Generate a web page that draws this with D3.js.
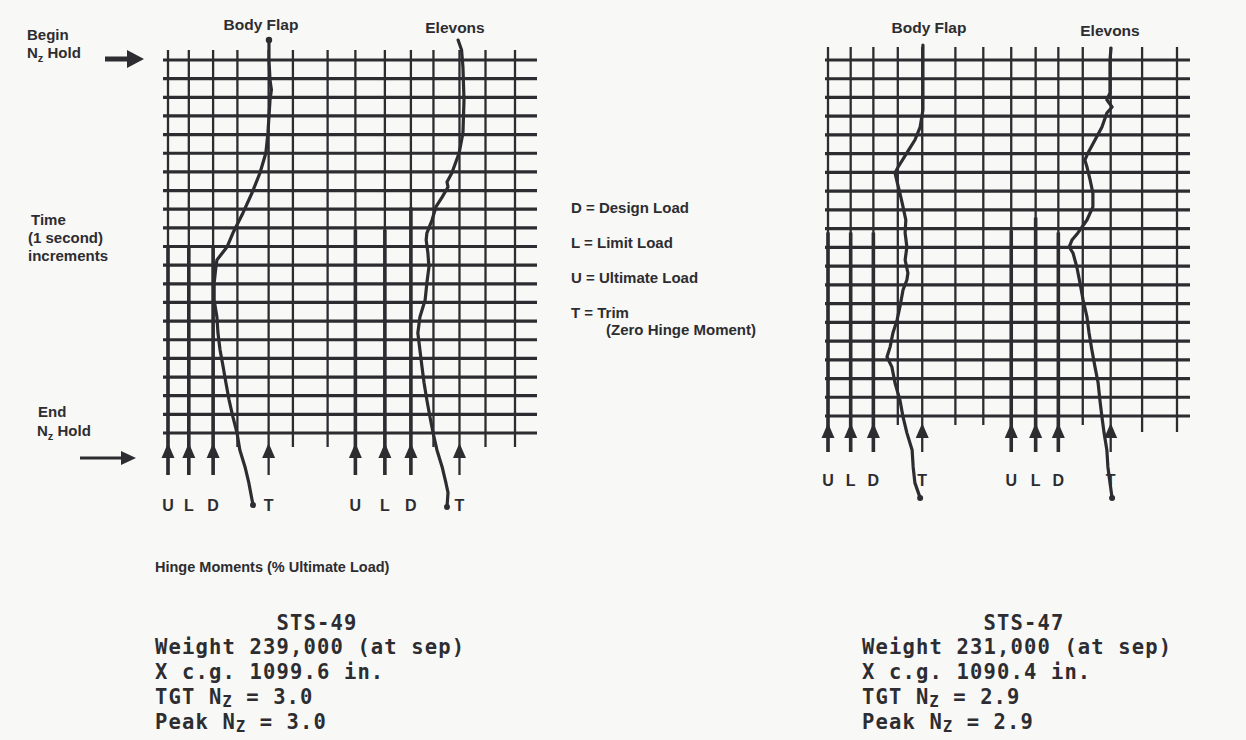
<!DOCTYPE html>
<html><head><meta charset="utf-8">
<script src="https://cdn.jsdelivr.net/npm/d3@7"></script>
<style>
html,body{margin:0;padding:0;background:#f8f8f6;}
svg{display:block;}
.lbl{font-family:"Liberation Sans",Arial,sans-serif;font-weight:bold;fill:#2d2d31;}
.mono{font-family:"DejaVu Sans Mono",monospace;font-weight:bold;fill:#2d2d31;}
</style></head><body>
<svg id="c" width="1246" height="740"></svg>
<script>
// ---------------- DATA ----------------
// time grid (1 second increments)
const leftTimeTicks = d3.range(0, 21);
const rightTimeTicks = d3.range(0, 20);
// hinge moment grid values (relative scale 0..100)
const leftGridValues = [0, 6, 13, 20, 29, 36, 46, 54, 62.5, 70, 76.5, 84, 91.5, 100];
const rightGridValues = [0, 6.5, 13, 20, 27, 36.5, 44.5, 52.5, 59.5, 66, 73, 81, 90, 100];
const loadLabels = ["U", "L", "D", "T"];
// load marker positions (U, L, D, T)
const leftFlapLoads = [0, 6, 13, 29];
const leftElevonLoads = [54, 62.5, 70, 84];
const rightFlapLoads = [0, 6.5, 13, 27];
const rightElevonLoads = [52.5, 59.5, 66, 81];
// time from which the U/L/D load lines are drawn heavy
const leftFlapHeavyFrom = [10, 10, 10];
const leftElevonHeavyFrom = [9.1, 9.1, 7.9];
const rightFlapHeavyFrom = [9.2, 9.2, 9.2];
const rightElevonHeavyFrom = [9.1, 8.4, 9.2];

// STS-49 body flap
const leftFlapTime = [-1.07, 0, 1.07, 1.6, 2.14, 3.91, 4.99, 6.06, 7.13, 8.2, 9.28, 10.03, 10.72, 11.1, 11.96, 12.87, 13.78, 14.64, 15.55, 16.46, 17.32, 18.23, 19.14, 20, 20.91, 21.82, 22.68, 23.86];
const leftFlapMoment = [29.1, 29.1, 29.4, 29.8, 29.4, 28.8, 28.2, 26.5, 24.2, 21.6, 18.7, 17.0, 14.1, 13.8, 13.3, 13.3, 14.1, 14.4, 15.0, 15.9, 16.7, 17.6, 18.7, 19.9, 20.7, 22.2, 23.3, 24.5];
// STS-49 elevons
const leftElevonTime = [-1.07, -0.54, 0.38, 2.14, 3.91, 4.99, 6.06, 6.54, 6.81, 7.35, 7.88, 8.58, 9.28, 9.65, 10.35, 11.1, 11.96, 12.87, 13.78, 14.64, 15.55, 16.46, 17.32, 18.23, 19.14, 20, 20.91, 21.82, 22.68, 23.2, 23.97];
const leftElevonMoment = [83.6, 84.6, 85.0, 85.3, 85.0, 83.9, 81.8, 80.4, 80.7, 79.0, 77.2, 76.1, 74.6, 74.4, 74.9, 75.2, 74.6, 74.1, 72.6, 72.0, 72.6, 73.2, 73.8, 74.6, 75.5, 76.4, 77.5, 79.0, 80.1, 80.7, 80.4];
// STS-47 body flap
const rightFlapTime = [-0.8, 0, 1.07, 2.67, 3.58, 4.27, 4.96, 5.71, 6.03, 6.51, 7.1, 7.84, 8.54, 9.23, 9.98, 10.67, 11.37, 11.74, 12.27, 13.18, 13.87, 14.57, 15.31, 15.85, 16.38, 17.24, 18.14, 19.05, 19.9, 20.81, 21.72, 22.57, 23.37];
const rightFlapMoment = [27.2, 27.2, 27.2, 27.2, 26.4, 24.9, 22.6, 20.1, 19.2, 19.8, 20.6, 21.5, 22.3, 22.1, 22.6, 22.1, 22.9, 22.6, 21.5, 20.6, 19.8, 18.6, 17.8, 16.9, 18.3, 19.2, 20.6, 21.5, 22.6, 24.1, 24.4, 24.9, 26.4];
// STS-47 elevons
const rightElevonTime = [-0.64, 0, 1.76, 2.13, 2.51, 2.83, 3.58, 4.27, 4.96, 5.34, 5.71, 6.4, 7.1, 7.84, 8.54, 9.23, 9.61, 9.98, 10.3, 11.05, 11.9, 12.81, 13.71, 14.57, 15.47, 16.38, 17.24, 18.14, 19.05, 19.9, 20.81, 21.72, 22.57, 23.37];
const rightElevonMoment = [81.1, 80.8, 80.8, 79.9, 81.4, 79.9, 78.5, 76.5, 74.5, 73.6, 74.2, 75.1, 75.9, 75.9, 74.2, 71.6, 69.9, 69.1, 70.2, 71.3, 72.2, 73.1, 74.2, 74.8, 75.6, 76.5, 77.4, 77.9, 78.5, 79.1, 79.9, 80.2, 80.8, 81.4];

const legendLines = ["D = Design Load", "L = Limit Load", "U = Ultimate Load", "T = Trim"];
const legendNote = "(Zero Hinge Moment)";
const sts49Title = "STS-49";
const sts49Info = ["Weight 239,000 (at sep)", "X c.g. 1099.6 in.", "TGT N_Z = 3.0", "Peak N_Z = 3.0"];
const sts47Title = "STS-47";
const sts47Info = ["Weight 231,000 (at sep)", "X c.g. 1090.4 in.", "TGT N_Z = 2.9", "Peak N_Z = 2.9"];

// ---------------- DRAW ----------------
const ink = "#2d2d31";
const svg = d3.select("#c");
svg.append("rect").attr("width", 1246).attr("height", 740).attr("fill", "#f8f8f6");

const zip = (t, v) => t.map((d, i) => ({t: d, v: v[i]}));

const panels = [
  {xr: [168, 515], yr: [60, 433], tMax: 20, ticks: leftTimeTicks, grid: leftGridValues,
   padL: 5, padR: 22, top: 10, bot: 14, botLong: 14, longFrom: 99,
   tip: 10, base: 25, shaft: 42, labelY: 511,
   flap: {loads: leftFlapLoads, heavy: leftFlapHeavyFrom, t: leftFlapTime, v: leftFlapMoment},
   elev: {loads: leftElevonLoads, heavy: leftElevonHeavyFrom, t: leftElevonTime, v: leftElevonMoment},
   flapTitle: [261, 30], elevTitle: [455, 33], startDot: true,
   title: sts49Title, info: sts49Info, infoX: 155},
  {xr: [828, 1177], yr: [60, 416], tMax: 19, ticks: rightTimeTicks, grid: rightGridValues,
   padL: 3, padR: 13, top: 13, bot: 9, botLong: 16, longFrom: 12,
   tip: 7, base: 22, shaft: 36, labelY: 486,
   flap: {loads: rightFlapLoads, heavy: rightFlapHeavyFrom, t: rightFlapTime, v: rightFlapMoment},
   elev: {loads: rightElevonLoads, heavy: rightElevonHeavyFrom, t: rightElevonTime, v: rightElevonMoment},
   flapTitle: [929, 33], elevTitle: [1110, 36], startDot: false,
   title: sts47Title, info: sts47Info, infoX: 862}
];

function addRich(textSel, str, subShift, subSize) {
  const parts = str.split("_");
  textSel.append("tspan").text(parts[0]);
  for (let k = 1; k < parts.length; k++) {
    const sub = parts[k][0], rest = parts[k].slice(1);
    textSel.append("tspan").attr("dy", subShift).attr("font-size", subSize).text(sub);
    textSel.append("tspan").attr("dy", -subShift).text(rest);
  }
}

panels.forEach(p => {
  const x = d3.scaleLinear().domain([0, 100]).range(p.xr);
  const y = d3.scaleLinear().domain([0, p.tMax]).range(p.yr);
  const g = svg.append("g");
  const yBottom = y(p.tMax);
  const arrowVals = [...p.flap.loads, ...p.elev.loads];

  // horizontal time lines
  g.selectAll("line.h").data(p.ticks).join("line").attr("class", "h")
    .attr("x1", x(0) - p.padL).attr("x2", x(100) + p.padR)
    .attr("y1", d => y(d)).attr("y2", d => y(d))
    .attr("stroke", ink).attr("stroke-width", 3.2);

  // vertical hinge-moment lines
  g.selectAll("line.v").data(p.grid).join("line").attr("class", "v")
    .attr("x1", d => x(d)).attr("x2", d => x(d))
    .attr("y1", y(0) - p.top)
    .attr("y2", (d, i) => arrowVals.includes(d) ? yBottom + p.shaft : yBottom + (i >= p.longFrom ? p.botLong : p.bot))
    .attr("stroke", ink).attr("stroke-width", 2.3);

  [p.flap, p.elev].forEach(s => {
    // heavy load lines
    g.selectAll(null).data(s.heavy).join("line")
      .attr("x1", (d, i) => x(s.loads[i])).attr("x2", (d, i) => x(s.loads[i]))
      .attr("y1", d => y(d)).attr("y2", yBottom + p.shaft)
      .attr("stroke", ink).attr("stroke-width", 3.6);
    // arrowheads
    g.selectAll(null).data(s.loads).join("path")
      .attr("d", d => `M${x(d)},${yBottom + p.tip} L${x(d) + 6.5},${yBottom + p.base} L${x(d) - 6.5},${yBottom + p.base} Z`)
      .attr("fill", ink);
    // labels
    g.selectAll(null).data(s.loads).join("text").attr("class", "lbl")
      .attr("x", d => x(d)).attr("y", p.labelY).attr("text-anchor", "middle")
      .attr("font-size", 16).text((d, i) => loadLabels[i]);
    // curve
    const pts = zip(s.t, s.v);
    g.append("path").datum(pts)
      .attr("d", d3.line().x(d => x(d.v)).y(d => y(d.t)))
      .attr("fill", "none").attr("stroke", ink).attr("stroke-width", 3.2)
      .attr("stroke-linejoin", "round").attr("stroke-linecap", "round");
    const last = pts[pts.length - 1];
    g.append("circle").attr("cx", x(last.v)).attr("cy", y(last.t)).attr("r", 3).attr("fill", ink);
  });
  if (p.startDot) {
    const f = p.flap;
    g.append("circle").attr("cx", x(f.v[0])).attr("cy", y(f.t[0])).attr("r", 3.2).attr("fill", ink);
  }

  g.append("text").attr("class", "lbl").attr("font-size", 15.5).attr("text-anchor", "middle")
    .attr("x", p.flapTitle[0]).attr("y", p.flapTitle[1]).text("Body Flap");
  g.append("text").attr("class", "lbl").attr("font-size", 15.5).attr("text-anchor", "middle")
    .attr("x", p.elevTitle[0]).attr("y", p.elevTitle[1]).text("Elevons");

  // flight info block
  const cw = 13.5;
  g.append("text").attr("class", "mono").attr("font-size", 20.5).attr("letter-spacing", 1.15)
    .attr("x", p.infoX + 9 * cw).attr("y", 630).text(p.title);
  p.info.forEach((line, i) => {
    const t = g.append("text").attr("class", "mono").attr("font-size", 20.5).attr("letter-spacing", 1.15)
      .attr("x", p.infoX).attr("y", 654 + i * 25);
    addRich(t, line, 2.5, 15);
  });
});

// legend (middle)
const lg = svg.append("g");
legendLines.forEach((s, i) => {
  lg.append("text").attr("class", "lbl").attr("font-size", 15)
    .attr("x", 571).attr("y", 213 + i * 35).text(s);
});
lg.append("text").attr("class", "lbl").attr("font-size", 15).attr("x", 606).attr("y", 335).text(legendNote);

// left annotations
const an = svg.append("g");
an.append("text").attr("class", "lbl").attr("font-size", 15).attr("x", 27).attr("y", 40).text("Begin");
{
  const t = an.append("text").attr("class", "lbl").attr("font-size", 15).attr("x", 27).attr("y", 58);
  addRich(t, "N_z Hold", 4, 11);
}
an.append("line").attr("x1", 105).attr("x2", 129).attr("y1", 59).attr("y2", 59).attr("stroke", ink).attr("stroke-width", 5);
an.append("path").attr("d", "M127,50 L144,59 L127,68 Z").attr("fill", ink);

an.append("text").attr("class", "lbl").attr("font-size", 15).attr("x", 31).attr("y", 225).text("Time");
an.append("text").attr("class", "lbl").attr("font-size", 15).attr("x", 28).attr("y", 243).text("(1 second)");
an.append("text").attr("class", "lbl").attr("font-size", 15).attr("x", 28).attr("y", 261).text("increments");

an.append("text").attr("class", "lbl").attr("font-size", 15).attr("x", 38).attr("y", 417).text("End");
{
  const t = an.append("text").attr("class", "lbl").attr("font-size", 15).attr("x", 37).attr("y", 436);
  addRich(t, "N_z Hold", 4, 11);
}
an.append("line").attr("x1", 80).attr("x2", 124).attr("y1", 458).attr("y2", 458).attr("stroke", ink).attr("stroke-width", 3);
an.append("path").attr("d", "M121,451 L136,458 L121,465 Z").attr("fill", ink);

an.append("text").attr("class", "lbl").attr("font-size", 14.5).attr("x", 155).attr("y", 572)
  .text("Hinge Moments (% Ultimate Load)");
</script>
</body></html>
